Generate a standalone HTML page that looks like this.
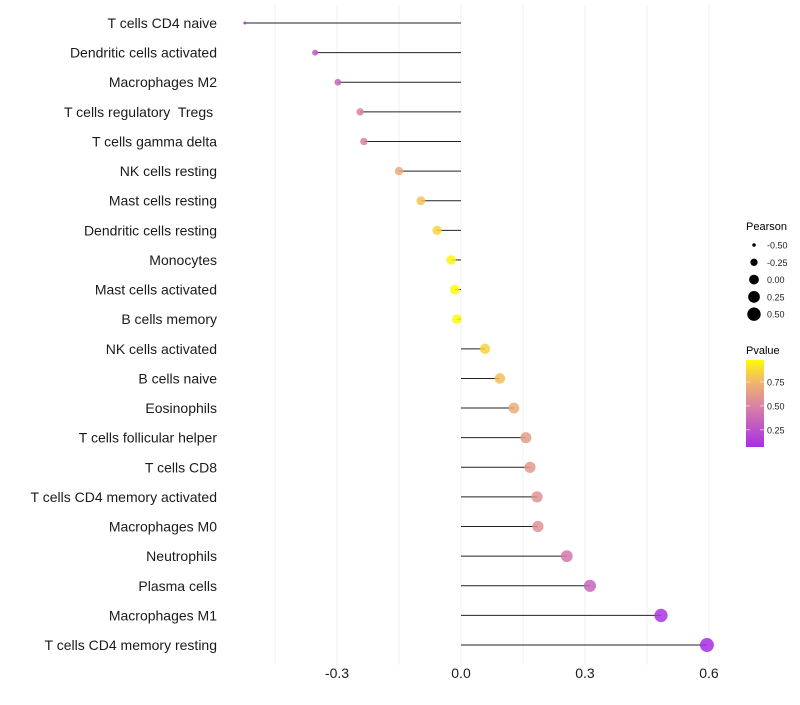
<!DOCTYPE html>
<html><head><meta charset="utf-8"><style>
body{margin:0;background:#fff;font-family:"Liberation Sans",sans-serif}
svg text{font-family:"Liberation Sans",sans-serif;white-space:pre}
</style></head><body>
<svg id="chart" width="800" height="700"></svg>
<script>
const categories=["T cells CD4 naive","Dendritic cells activated","Macrophages M2","T cells regulatory  Tregs ","T cells gamma delta","NK cells resting","Mast cells resting","Dendritic cells resting","Monocytes","Mast cells activated","B cells memory","NK cells activated","B cells naive","Eosinophils","T cells follicular helper","T cells CD8","T cells CD4 memory activated","Macrophages M0","Neutrophils","Plasma cells","Macrophages M1","T cells CD4 memory resting"];
const pearson=[-0.523,-0.353,-0.298,-0.244,-0.235,-0.150,-0.097,-0.058,-0.024,-0.015,-0.010,0.058,0.094,0.128,0.157,0.167,0.184,0.186,0.256,0.312,0.484,0.595];
const pvalue=[0.05,0.3,0.35,0.5,0.5,0.7,0.8,0.86,0.96,0.98,0.98,0.86,0.79,0.7,0.63,0.61,0.58,0.57,0.45,0.35,0.1,0.05];
const xTicks=[-0.3,0,0.3,0.6];
const xTickLabels=["-0.3","0.0","0.3","0.6"];
const sizeLegend=[-0.5,-0.25,0,0.25,0.5];
const sizeLegendLabels=["-0.50","-0.25","0.00","0.25","0.50"];
const pLegend=[0.75,0.5,0.25];
const pLegendLabels=["0.75","0.50","0.25"];
const NS="http://www.w3.org/2000/svg";
const svg=document.getElementById('chart');
function el(t,a,p){const e=document.createElementNS(NS,t);for(const k in a)e.setAttribute(k,a[k]);(p||svg).appendChild(e);return e;}
const x=v=>461+v*413.3;
const y=i=>23+i*29.62;
const r=p=>Math.sqrt(Math.max(1,2.25+(p+0.52)*41.7));
const stops=[[0,[160,32,240]],[0.5,[216,130,165]],[0.75,[240,180,110]],[1,[255,255,0]]];
function col(p){for(let i=1;i<stops.length;i++){if(p<=stops[i][0]){const a=stops[i-1],b=stops[i];const t=(p-a[0])/(b[0]-a[0]);const c=a[1].map((v,k)=>Math.round(v+(b[1][k]-v)*t));return `rgb(${c})`;}}return 'rgb(255,255,0)';}
for(let g=-0.45;g<=0.61;g+=0.15){const gl=el('line',{x1:x(g),x2:x(g),y1:5,y2:665,stroke:'#f2f2f2','stroke-width':1});
}
categories.forEach((c,i)=>{
 const t=el('text',{x:217,y:y(i)+5,'text-anchor':'end','font-size':14,fill:'#1a1a1a','xml:space':'preserve'});t.textContent=c;
 
 const l=el('line',{x1:x(0),x2:x(pearson[i]),y1:y(i),y2:y(i),stroke:'#222','stroke-width':1});
 
 const d=el('circle',{cx:x(pearson[i]),cy:y(i),r:r(pearson[i]),fill:col(pvalue[i]),'fill-opacity':0.85});
 
});
xTicks.forEach((v,i)=>{const t=el('text',{x:x(v),y:678,'text-anchor':'middle','font-size':14,fill:'#1a1a1a'});t.textContent=xTickLabels[i];
});
let t=el('text',{x:746,y:230,'font-size':11,fill:'#000'});t.textContent='Pearson';

sizeLegend.forEach((v,i)=>{const cy=245+i*17.3;
 const c=el('circle',{cx:754,cy:cy,r:r(v),fill:'#000'});
 const tt=el('text',{x:767,y:cy+3.5,'font-size':9,fill:'#222'});tt.textContent=sizeLegendLabels[i];
 });
t=el('text',{x:746,y:354,'font-size':11,fill:'#000'});t.textContent='Pvalue';

const defs=el('defs',{});const lg=el('linearGradient',{id:'pg',x1:0,y1:1,x2:0,y2:0},defs);
[[0,0.07],[0.47,0.5],[0.74,0.75],[1,0.98]].forEach(([o,p])=>el('stop',{offset:o,'stop-color':col(p)},lg));
const bar=el('rect',{x:746,y:360,width:18,height:87,fill:'url(#pg)'});

pLegend.forEach((v,i)=>{const cy=447-(v-0.07)/0.91*87;
 el('line',{x1:746,x2:750,y1:cy,y2:cy,stroke:'#fff','stroke-opacity':0.6});el('line',{x1:760,x2:764,y1:cy,y2:cy,stroke:'#fff','stroke-opacity':0.6});
 const tt=el('text',{x:767,y:cy+3.5,'font-size':9,fill:'#222'});tt.textContent=pLegendLabels[i];
 });
</script>
</body></html>
